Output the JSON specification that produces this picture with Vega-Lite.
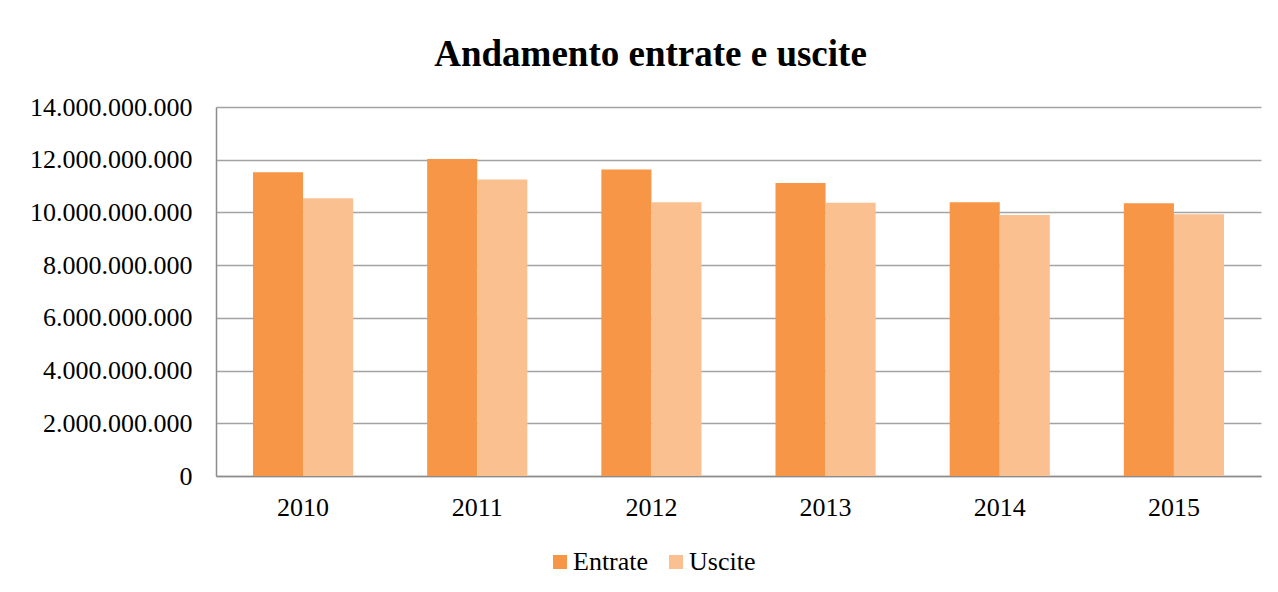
{
  "$schema": "https://vega.github.io/schema/vega-lite/v6.json",
  "autosize": {"type": "none"},
  "width": 1045,
  "height": 369,
  "padding": {"left": 216, "top": 107, "right": 17, "bottom": 116},
  "background": "white",
  "title": {
    "text": "Andamento entrate e uscite",
    "font": "Liberation Serif",
    "fontSize": 37,
    "fontWeight": "bold",
    "color": "black",
    "anchor": "middle",
    "dx": -88,
    "offset": 20
  },
  "data": {
    "values": [
      {"anno": "2010", "serie": "Entrate", "valore": 11520000000},
      {"anno": "2010", "serie": "Uscite", "valore": 10540000000},
      {"anno": "2011", "serie": "Entrate", "valore": 12030000000},
      {"anno": "2011", "serie": "Uscite", "valore": 11250000000},
      {"anno": "2012", "serie": "Entrate", "valore": 11630000000},
      {"anno": "2012", "serie": "Uscite", "valore": 10390000000},
      {"anno": "2013", "serie": "Entrate", "valore": 11120000000},
      {"anno": "2013", "serie": "Uscite", "valore": 10370000000},
      {"anno": "2014", "serie": "Entrate", "valore": 10390000000},
      {"anno": "2014", "serie": "Uscite", "valore": 9900000000},
      {"anno": "2015", "serie": "Entrate", "valore": 10350000000},
      {"anno": "2015", "serie": "Uscite", "valore": 9930000000}
    ]
  },
  "mark": {"type": "bar"},
  "encoding": {
    "x": {
      "field": "anno",
      "type": "nominal",
      "scale": {"paddingInner": 0.425, "paddingOuter": 0.2125},
      "axis": {
        "title": null,
        "labelAngle": 0,
        "labelFont": "Liberation Serif",
        "labelFontSize": 26,
        "labelColor": "black",
        "labelPadding": 18,
        "ticks": false,
        "domainColor": "#8c8c8c",
        "domainWidth": 1.5
      }
    },
    "xOffset": {"field": "serie", "type": "nominal"},
    "y": {
      "field": "valore",
      "type": "quantitative",
      "scale": {"domain": [0, 14000000000], "nice": false},
      "axis": {
        "title": null,
        "values": [0, 2000000000, 4000000000, 6000000000, 8000000000, 10000000000, 12000000000, 14000000000],
        "format": ",d",
        "labelFont": "Liberation Serif",
        "labelFontSize": 26,
        "labelColor": "black",
        "labelPadding": 24,
        "ticks": false,
        "domainColor": "#8c8c8c",
        "domainWidth": 1.5,
        "grid": true,
        "gridColor": "#a3a3a3",
        "gridWidth": 1.5
      }
    },
    "color": {
      "field": "serie",
      "type": "nominal",
      "scale": {"domain": ["Entrate", "Uscite"], "range": ["#F79646", "#FAC090"]},
      "legend": {
        "title": null,
        "orient": "none",
        "direction": "horizontal",
        "legendX": 331,
        "legendY": 442,
        "symbolType": "square",
        "symbolSize": 196,
        "symbolStrokeWidth": 0,
        "labelFont": "Liberation Serif",
        "labelFontSize": 26,
        "labelColor": "black",
        "labelOffset": 0,
        "columnPadding": 14
      }
    }
  },
  "config": {
    "locale": {"number": {"decimal": ",", "thousands": ".", "grouping": [3], "currency": ["€", ""]}},
    "view": {"stroke": null},
    "bar": {"stroke": null}
  }
}
